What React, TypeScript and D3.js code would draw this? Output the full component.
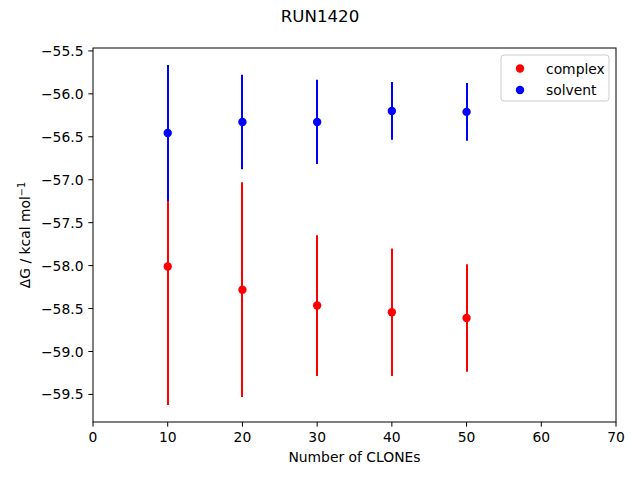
import React from 'react';
import * as d3 from 'd3';

const clones = [10, 20, 30, 40, 50];
const complexMean = [-58.01, -58.28, -58.465, -58.542, -58.61];
const complexErr = [1.613, 1.25, 0.82, 0.742, 0.625];
const solventMean = [-56.456, -56.327, -56.327, -56.199, -56.21];
const solventErr = [0.792, 0.55, 0.49, 0.336, 0.335];
const xTicks = [0, 10, 20, 30, 40, 50, 60, 70];
const yTicks = [-59.5, -59.0, -58.5, -58.0, -57.5, -57.0, -56.5, -56.0, -55.5];

const W = 640;
const H = 480;
const margin = { top: 48, right: 24, bottom: 58, left: 93 };
const FONT = 'DejaVu Sans, sans-serif';
const fmt = (v: number) => v.toFixed(1).replace('-', '\u2212');

export default function App() {
  const x = d3.scaleLinear().domain([0, 70]).range([margin.left, W - margin.right]);

  // matplotlib-style autoscale: data extent plus 5% margin
  const lo = d3.min(complexMean.map((m, i) => m - complexErr[i])) as number;
  const hi = d3.max(solventMean.map((m, i) => m + solventErr[i])) as number;
  const pad = (hi - lo) * 0.05;
  const y = d3.scaleLinear().domain([lo - pad, hi + pad]).range([H - margin.bottom, margin.top]);

  const [x0, x1] = x.range();
  const [y0, y1] = y.range();

  const series = [
    { name: 'complex', color: '#ff0000', mean: complexMean, err: complexErr },
    { name: 'solvent', color: '#0000ff', mean: solventMean, err: solventErr },
  ];

  return (
    <svg width={W} height={H} style={{ position: 'absolute', left: 0, top: 0, background: '#fff' }} fontFamily={FONT}>
      <rect width={W} height={H} fill="#fff" />
      <text x={W / 2} y={22} textAnchor="middle" fontSize={16.67}>RUN1420</text>

      {series.map((s) => (
        <g key={s.name}>
          {clones.map((c, i) => (
            <line key={'e' + i} x1={Math.round(x(c))} x2={Math.round(x(c))}
              y1={y(s.mean[i] - s.err[i])} y2={y(s.mean[i] + s.err[i])}
              stroke={s.color} strokeWidth={2} />
          ))}
          {clones.map((c, i) => (
            <circle key={'p' + i} cx={x(c)} cy={y(s.mean[i])} r={4.2} fill={s.color} />
          ))}
        </g>
      ))}

      <rect x={x0} y={y1} width={x1 - x0} height={y0 - y1} fill="none" stroke="#000" strokeWidth={1} />

      {xTicks.map((t) => (
        <g key={t} transform={`translate(${x(t)},${y0})`}>
          <line y2={4.67} stroke="#000" strokeWidth={1} />
          <text y={19.5} textAnchor="middle" fontSize={13.89}>{t}</text>
        </g>
      ))}
      {yTicks.map((t) => (
        <g key={t} transform={`translate(${x0},${y(t)})`}>
          <line x2={-4.67} stroke="#000" strokeWidth={1} />
          <text x={-9.5} dy="0.36em" textAnchor="end" fontSize={13.89}>{fmt(t)}</text>
        </g>
      ))}

      <text x={(x0 + x1) / 2} y={462} textAnchor="middle" fontSize={13.89}>Number of CLONEs</text>
      <text transform={`translate(30,${(y0 + y1) / 2}) rotate(-90)`} textAnchor="middle" fontSize={13.89}>
        ΔG / kcal mol<tspan fontSize={9.7} dy={-5}>{'\u22121'}</tspan>
      </text>

      <g transform="translate(501,55)">
        <rect width={108} height={46} rx={3} fill="#fff" fillOpacity={0.8} stroke="#cccccc" strokeWidth={1} />
        {series.map((s, i) => (
          <g key={s.name} transform={`translate(0,${13.5 + i * 21.5})`}>
            <circle cx={19} cy={0} r={4.2} fill={s.color} />
            <text x={45} dy="0.36em" fontSize={13.89}>{s.name}</text>
          </g>
        ))}
      </g>
    </svg>
  );
}
